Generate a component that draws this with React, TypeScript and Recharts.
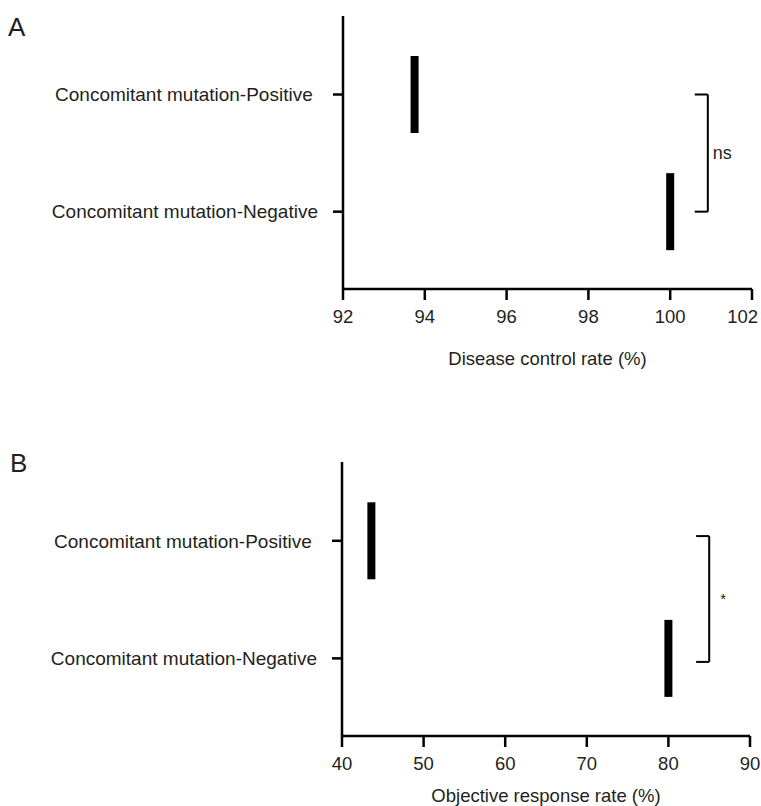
import { ReferenceLine, Scatter, ScatterChart, XAxis, YAxis } from "recharts";

const categories = ["Concomitant mutation-Positive\u00a0", "Concomitant mutation-Negative"];
const categoryPositions = [1, 2];

// Panel A: disease control rate (%)
const dcrValues = [93.75, 100];
const dcrTicks = [92, 94, 96, 98, 100, 102];
const dcrBracketX = [100.6, 100.92];
const dcrBracketY = [1, 2];
const dcrSignificance = "ns";

// Panel B: objective response rate (%)
const orrValues = [43.6, 80];
const orrTicks = [40, 50, 60, 70, 80, 90];
const orrBracketX = [83.4, 85];
const orrBracketY = [0.96, 2.03];
const orrSignificance = "*";

const FONT = "'Liberation Sans', Arial, Helvetica, sans-serif";
const TEXT = "#231f20";
const CHART_W = 761;
const TICK_FONT = 18.5;

const RateMark = (props: any) => (
  <rect x={props.cx - 4} y={props.cy - 38.5} width={8} height={77} fill="#000" />
);

// keeps the outermost tick label inside the picture
const RateTick = (props: any) => {
  const { x, y, payload } = props;
  const label = String(payload.value);
  const half = (label.length * 0.556 * TICK_FONT) / 2;
  const overflow = x + half > CHART_W;
  return (
    <text
      x={overflow ? CHART_W - 3 : x}
      y={y}
      dy="0.71em"
      textAnchor={overflow ? "end" : "middle"}
      fill={TEXT}
      fontSize={TICK_FONT}
      fontFamily={FONT}
    >
      {label}
    </text>
  );
};

function bracketLines(xs: number[], ys: number[], label: string, labelSize: number, labelOffset: number) {
  const [inner, outer] = xs;
  const [from, to] = ys;
  return [
    <ReferenceLine
      key="top"
      segment={[{ x: inner, y: from }, { x: outer, y: from }]}
      stroke="#000"
      strokeWidth={2}
      ifOverflow="visible"
    />,
    <ReferenceLine
      key="bottom"
      segment={[{ x: inner, y: to }, { x: outer, y: to }]}
      stroke="#000"
      strokeWidth={2}
      ifOverflow="visible"
    />,
    <ReferenceLine
      key="side"
      segment={[{ x: outer, y: from }, { x: outer, y: to }]}
      stroke="#000"
      strokeWidth={2}
      ifOverflow="visible"
      label={{
        value: label,
        position: "right",
        offset: labelOffset,
        fill: TEXT,
        fontSize: labelSize,
        fontFamily: FONT,
      }}
    />,
  ];
}

interface PanelProps {
  values: number[];
  ticks: number[];
  bracketX: number[];
  bracketY: number[];
  significance: string;
  xLabel: string;
  height: number;
  marginTop: number;
  marginRight: number;
  yAxisWidth: number;
  xAxisHeight: number;
  xLabelOffset: number;
  sigSize: number;
  sigOffset: number;
}

function RatePanel(p: PanelProps) {
  const points = p.values.map((v, i) => ({ rate: v, pos: categoryPositions[i] }));
  return (
    <ScatterChart
      width={CHART_W}
      height={p.height}
      margin={{ top: p.marginTop, right: p.marginRight, bottom: 0, left: 0 }}
      style={{ fontFamily: FONT }}
    >
      <XAxis
        type="number"
        dataKey="rate"
        domain={[p.ticks[0], p.ticks[p.ticks.length - 1]]}
        ticks={p.ticks}
        interval={0}
        height={p.xAxisHeight}
        tickSize={11}
        tickMargin={10}
        axisLine={{ stroke: "#000", strokeWidth: 2.5 }}
        tickLine={{ stroke: "#000", strokeWidth: 2.5 }}
        tick={<RateTick />}
        label={{
          value: p.xLabel,
          position: "insideBottom",
          offset: p.xLabelOffset,
          fill: TEXT,
          fontSize: 18.5,
          fontFamily: FONT,
        }}
      />
      <YAxis
        type="number"
        dataKey="pos"
        domain={[0.33, 2.66]}
        reversed
        allowDataOverflow
        ticks={categoryPositions}
        interval={0}
        width={p.yAxisWidth}
        tickSize={10}
        tickMargin={15}
        tickFormatter={(v: number) => categories[v - 1]}
        axisLine={{ stroke: "#000", strokeWidth: 2.5 }}
        tickLine={{ stroke: "#000", strokeWidth: 2.5 }}
        tick={{ fill: TEXT, fontSize: 19, fontFamily: FONT }}
      />
      <Scatter data={points} shape={RateMark} isAnimationActive={false} />
      {bracketLines(p.bracketX, p.bracketY, p.significance, p.sigSize, p.sigOffset)}
    </ScatterChart>
  );
}

export default function App() {
  const letter = { position: "absolute" as const, fontFamily: FONT, fontSize: 26, lineHeight: "26px", color: TEXT };
  return (
    <div style={{ position: "absolute", left: 0, top: 0, width: 761, height: 806, background: "#fff" }}>
      <div style={{ position: "absolute", left: 0, top: 0 }}>
        <RatePanel
          values={dcrValues}
          ticks={dcrTicks}
          bracketX={dcrBracketX}
          bracketY={dcrBracketY}
          significance={dcrSignificance}
          xLabel="Disease control rate (%)"
          height={379}
          marginTop={16}
          marginRight={9}
          yAxisWidth={343}
          xAxisHeight={90}
          xLabelOffset={14}
          sigSize={18}
          sigOffset={5}
        />
      </div>
      <div style={{ position: "absolute", left: 0, top: 400 }}>
        <RatePanel
          values={orrValues}
          ticks={orrTicks}
          bracketX={orrBracketX}
          bracketY={orrBracketY}
          significance={orrSignificance}
          xLabel="Objective response rate (%)"
          height={406}
          marginTop={62}
          marginRight={11}
          yAxisWidth={342}
          xAxisHeight={70}
          xLabelOffset={4}
          sigSize={15}
          sigOffset={11}
        />
      </div>
      <div style={{ ...letter, left: 8, top: 14 }}>A</div>
      <div style={{ ...letter, left: 10, top: 450 }}>B</div>
    </div>
  );
}
